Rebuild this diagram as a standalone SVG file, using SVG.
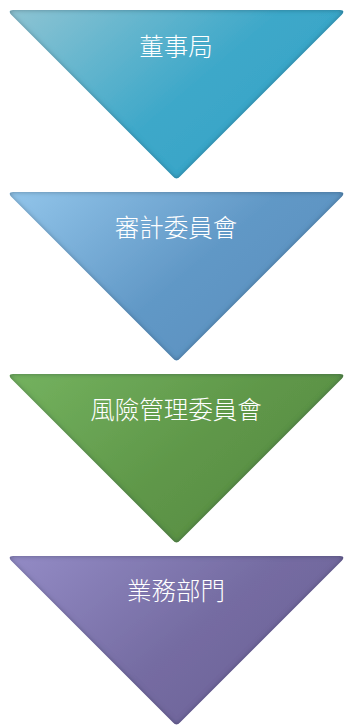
<svg xmlns="http://www.w3.org/2000/svg" width="345" height="725" viewBox="0 0 345 725">
<style>
.lbl{font-family:"Noto Sans CJK TC","Noto Sans CJK SC",sans-serif;font-size:24.5px;font-weight:300;fill:#ffffff;text-anchor:middle;}
</style>
<defs>
<linearGradient id="g1" x1="0" y1="0" x2="1" y2="0.6">
<stop offset="0" stop-color="#8ec4d3"/><stop offset="0.6" stop-color="#3ea8c9"/><stop offset="1" stop-color="#35a3c7"/>
</linearGradient>
<linearGradient id="g2" x1="0" y1="0" x2="1" y2="0.6">
<stop offset="0" stop-color="#92c5ea"/><stop offset="0.6" stop-color="#6198c6"/><stop offset="1" stop-color="#5a90bf"/>
</linearGradient>
<linearGradient id="g3" x1="0" y1="0" x2="1" y2="0.6">
<stop offset="0" stop-color="#74b25f"/><stop offset="0.6" stop-color="#5f9749"/><stop offset="1" stop-color="#578c41"/>
</linearGradient>
<linearGradient id="g4" x1="0" y1="0" x2="1" y2="0.6">
<stop offset="0" stop-color="#938bc5"/><stop offset="0.6" stop-color="#756ca2"/><stop offset="1" stop-color="#6d6398"/>
</linearGradient>
<filter id="bevel" x="-5%" y="-5%" width="110%" height="110%">
<feGaussianBlur in="SourceAlpha" stdDeviation="2.5" result="b"/>
<feComposite in="SourceAlpha" in2="b" operator="arithmetic" k2="1" k3="-1" result="edge"/>
<feFlood flood-color="#1a2a40" flood-opacity="0.65"/>
<feComposite in2="edge" operator="in" result="shade"/>
<feMerge><feMergeNode in="SourceGraphic"/><feMergeNode in="shade"/></feMerge>
</filter>
<path id="tri" d="M13,0 L340,0 Q345.5,0 342,4.5 L180,166.5 Q176.5,170.5 173,166.5 L11,4.5 Q7.5,0 13,0 Z"/>
</defs>
<g id="connectors"></g>
<g id="node1" transform="translate(0,10)">
<use href="#tri" fill="url(#g1)" filter="url(#bevel)"/>
<text class="lbl" x="176" y="46">董事局</text>
</g>
<g id="node2" transform="translate(0,192)">
<use href="#tri" fill="url(#g2)" filter="url(#bevel)"/>
<text class="lbl" x="176" y="45">審計委員會</text>
</g>
<g id="node3" transform="translate(0,374)">
<use href="#tri" fill="url(#g3)" filter="url(#bevel)"/>
<text class="lbl" x="176" y="45">風險管理委員會</text>
</g>
<g id="node4" transform="translate(0,556)">
<use href="#tri" fill="url(#g4)" filter="url(#bevel)"/>
<text class="lbl" x="176" y="44">業務部門</text>
</g>
</svg>
